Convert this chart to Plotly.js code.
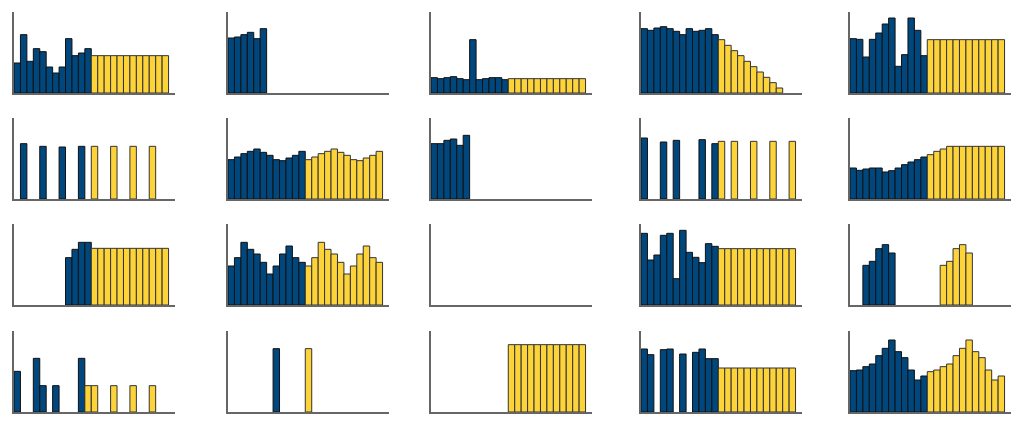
<!DOCTYPE html>
<html>
<head>
<meta charset="utf-8">
<script src="https://cdn.plot.ly/plotly-3.0.1.min.js"></script>
<style>html,body{margin:0;padding:0;background:#fff;}#chart{width:1024px;height:430px;}</style>
</head>
<body>
<div id="chart"></div>
<script>
const _ = null;
// Period slots (24 per panel: 12 actual + 12 forecast)
const periods = Array.from({length: 24}, (v, i) => i);

const p01_actual   = [90,175,95,133,124,78,60,78,163,112,120,133, _,_,_,_,_,_,_,_,_,_,_,_];
const p01_forecast = [_,_,_,_,_,_,_,_,_,_,_,_, 112,112,112,112,112,112,112,112,112,112,112,112];
const p02_actual   = [165,168,175,182,163,193, _,_,_,_,_,_, _,_,_,_,_,_,_,_,_,_,_,_];
const p02_forecast = [_,_,_,_,_,_,_,_,_,_,_,_, _,_,_,_,_,_,_,_,_,_,_,_];
const p03_actual   = [46,43,46,49,43,40,160,40,43,46,46,40, _,_,_,_,_,_,_,_,_,_,_,_];
const p03_forecast = [_,_,_,_,_,_,_,_,_,_,_,_, 43,43,43,43,43,43,43,43,43,43,43,43];
const p04_actual   = [193,188,195,199,193,185,175,193,185,188,193,175, _,_,_,_,_,_,_,_,_,_,_,_];
const p04_forecast = [_,_,_,_,_,_,_,_,_,_,_,_, 160,143,127,112,95,79,63,47,31,15,_,_];
const p05_actual   = [163,161,108,161,180,207,225,80,115,225,188,112, _,_,_,_,_,_,_,_,_,_,_,_];
const p05_forecast = [_,_,_,_,_,_,_,_,_,_,_,_, 160,160,160,160,160,160,160,160,160,160,160,160];

const p06_actual   = [_,166,_,_,158,_,_,156,_,_,158,_, _,_,_,_,_,_,_,_,_,_,_,_];
const p06_forecast = [_,_,_,_,_,_,_,_,_,_,_,_, 158,_,_,158,_,_,158,_,_,158,_,_];
const p07_actual   = [118,126,136,143,150,140,131,118,115,123,131,143, _,_,_,_,_,_,_,_,_,_,_,_];
const p07_forecast = [_,_,_,_,_,_,_,_,_,_,_,_, 118,126,136,143,150,140,131,118,115,123,131,143];
const p08_actual   = [166,166,176,180,161,191, _,_,_,_,_,_, _,_,_,_,_,_,_,_,_,_,_,_];
const p08_forecast = [_,_,_,_,_,_,_,_,_,_,_,_, _,_,_,_,_,_,_,_,_,_,_,_];
const p09_actual   = [183,_,_,171,_,176,_,_,_,178,_,166, _,_,_,_,_,_,_,_,_,_,_,_];
const p09_forecast = [_,_,_,_,_,_,_,_,_,_,_,_, 173,_,173,_,_,173,_,_,173,_,_,173];
const p10_actual   = [93,86,90,93,93,81,85,93,103,111,118,126, _,_,_,_,_,_,_,_,_,_,_,_];
const p10_forecast = [_,_,_,_,_,_,_,_,_,_,_,_, 133,143,150,158,158,158,158,158,158,158,158,158];

const p11_actual   = [_,_,_,_,_,_,_,_,142,167,188,188, _,_,_,_,_,_,_,_,_,_,_,_];
const p11_forecast = [_,_,_,_,_,_,_,_,_,_,_,_, 170,170,170,170,170,170,170,170,170,170,170,170];
const p12_actual   = [117,142,188,167,153,128,93,117,153,177,142,128, _,_,_,_,_,_,_,_,_,_,_,_];
const p12_forecast = [_,_,_,_,_,_,_,_,_,_,_,_, 117,142,188,167,153,128,93,117,153,177,142,128];
const p13_actual   = [_,_,_,_,_,_,_,_,_,_,_,_, _,_,_,_,_,_,_,_,_,_,_,_];
const p13_forecast = [_,_,_,_,_,_,_,_,_,_,_,_, _,_,_,_,_,_,_,_,_,_,_,_];
const p14_actual   = [215,135,150,209,215,79,224,158,143,127,184,176, _,_,_,_,_,_,_,_,_,_,_,_];
const p14_forecast = [_,_,_,_,_,_,_,_,_,_,_,_, 169,169,169,169,169,169,169,169,169,169,169,169];
const p15_actual   = [_,_,119,131,169,181,156,_,_,_,_,_, _,_,_,_,_,_,_,_,_,_,_,_];
const p15_forecast = [_,_,_,_,_,_,_,_,_,_,_,_, _,_,119,131,169,181,156,_,_,_,_,_];

const p16_actual   = [122,_,_,161,79,_,79,_,_,_,161,_, _,_,_,_,_,_,_,_,_,_,_,_];
const p16_forecast = [_,_,_,_,_,_,_,_,_,_,_,79, 79,_,_,79,_,_,79,_,_,79,_,_];
const p17_actual   = [_,_,_,_,_,_,_,190,_,_,_,_, _,_,_,_,_,_,_,_,_,_,_,_];
const p17_forecast = [_,_,_,_,_,_,_,_,_,_,_,_, 190,_,_,_,_,_,_,_,_,_,_,_];
const p18_actual   = [_,_,_,_,_,_,_,_,_,_,_,_, _,_,_,_,_,_,_,_,_,_,_,_];
const p18_forecast = [_,_,_,_,_,_,_,_,_,_,_,_, 202,202,202,202,202,202,202,202,202,202,202,202];
const p19_actual   = [189,172,_,187,189,_,174,_,179,189,160,160, _,_,_,_,_,_,_,_,_,_,_,_];
const p19_forecast = [_,_,_,_,_,_,_,_,_,_,_,_, 132,132,132,132,132,132,132,132,132,132,132,132];
const p20_actual   = [124,126,136,144,169,191,216,181,163,126,96,108, _,_,_,_,_,_,_,_,_,_,_,_];
const p20_forecast = [_,_,_,_,_,_,_,_,_,_,_,_, 121,126,136,144,169,191,216,181,163,126,96,108];

const panels = [
  [p01_actual,p01_forecast],[p02_actual,p02_forecast],[p03_actual,p03_forecast],[p04_actual,p04_forecast],[p05_actual,p05_forecast],
  [p06_actual,p06_forecast],[p07_actual,p07_forecast],[p08_actual,p08_forecast],[p09_actual,p09_forecast],[p10_actual,p10_forecast],
  [p11_actual,p11_forecast],[p12_actual,p12_forecast],[p13_actual,p13_forecast],[p14_actual,p14_forecast],[p15_actual,p15_forecast],
  [p16_actual,p16_forecast],[p17_actual,p17_forecast],[p18_actual,p18_forecast],[p19_actual,p19_forecast],[p20_actual,p20_forecast]
];

const W = 1024, H = 430;
const colLeft = [14, 228, 431, 641, 850];
const colW = 161;
const rowTop = [12, 118, 224, 331];
const rowBot = [93, 199, 305, 412];
const BLUE = '#00477D', YELLOW = '#FDD33A';

const traces = [];
const layout = {
  width: W, height: H,
  margin: {l: 0, r: 0, t: 0, b: 0},
  paper_bgcolor: '#fff', plot_bgcolor: '#fff',
  showlegend: false,
  barmode: 'overlay',
  bargap: 0
};

panels.forEach((p, i) => {
  const r = Math.floor(i / 5), c = i % 5;
  const n = i + 1;
  const xa = 'x' + (n === 1 ? '' : n), ya = 'y' + (n === 1 ? '' : n);
  const xk = 'xaxis' + (n === 1 ? '' : n), yk = 'yaxis' + (n === 1 ? '' : n);
  [[p[0], BLUE, '#111'], [p[1], YELLOW, '#333']].forEach(([vals, col, lc]) => {
    traces.push({
      type: 'bar', x: periods, y: vals, xaxis: xa, yaxis: ya,
      width: 1,
      marker: {color: col, line: {color: lc, width: 1}},
      hoverinfo: 'skip'
    });
  });
  layout[xk] = {
    domain: [colLeft[c] / W, (colLeft[c] + colW) / W],
    anchor: ya, range: [-0.5, 24.5],
    showline: true, linecolor: '#666', linewidth: 2,
    showgrid: false, zeroline: false, showticklabels: false, ticks: '', fixedrange: true
  };
  layout[yk] = {
    domain: [1 - rowBot[r] / H, 1 - rowTop[r] / H],
    anchor: xa, range: [0, 243],
    showline: true, linecolor: '#666', linewidth: 2,
    showgrid: false, zeroline: false, showticklabels: false, ticks: '', fixedrange: true
  };
});

Plotly.newPlot('chart', traces, layout, {staticPlot: true, displayModeBar: false});
</script>
</body>
</html>
